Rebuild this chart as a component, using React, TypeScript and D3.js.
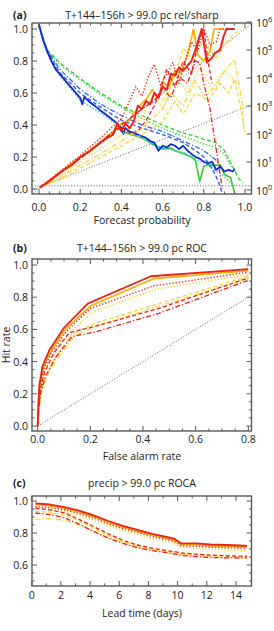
import React from "react";
import * as d3 from "d3";

type Pt = [number, number];

// ---------- panel (a): reliability (left axis) ----------
const relRedSolid: Pt[] = [
  [0.005, 0.01], [0.04, 0.04], [0.08, 0.08], [0.12, 0.12], [0.16, 0.15], [0.2, 0.2],
  [0.24, 0.23], [0.28, 0.27], [0.32, 0.31], [0.36, 0.34], [0.38, 0.41], [0.4, 0.36],
  [0.42, 0.41], [0.44, 0.38], [0.46, 0.42], [0.48, 0.52], [0.5, 0.5], [0.52, 0.55],
  [0.54, 0.53], [0.56, 0.6], [0.58, 0.57], [0.6, 0.64], [0.62, 0.62], [0.64, 0.72],
  [0.66, 0.71], [0.68, 0.76], [0.7, 0.74], [0.72, 0.77], [0.74, 0.8], [0.765, 0.89],
  [0.79, 1.0], [0.815, 0.79], [0.84, 0.82], [0.855, 0.85], [0.88, 0.87], [0.895, 0.95],
  [0.91, 1.0], [0.93, 1.0], [0.95, 1.0],
];
const relOrangeSolid: Pt[] = [
  [0.005, 0.01], [0.1, 0.1], [0.2, 0.2], [0.3, 0.29], [0.36, 0.36], [0.4, 0.41],
  [0.44, 0.43], [0.48, 0.51], [0.52, 0.56], [0.55, 0.62], [0.58, 0.57], [0.6, 0.67],
  [0.63, 0.64], [0.66, 0.74], [0.69, 0.72], [0.72, 0.84], [0.74, 0.94], [0.75, 1.0],
  [0.77, 0.84], [0.8, 0.8], [0.83, 0.86], [0.85, 1.0], [0.9, 1.0],
];
const relRedDotted: Pt[] = [
  [0.005, 0.01], [0.2, 0.21], [0.3, 0.32], [0.4, 0.44], [0.44, 0.55], [0.47, 0.64],
  [0.5, 0.58], [0.53, 0.7], [0.56, 0.78], [0.59, 0.65], [0.62, 0.72], [0.65, 0.79],
  [0.68, 0.66], [0.71, 0.8], [0.74, 0.92], [0.77, 0.86], [0.8, 1.0], [0.83, 0.9],
  [0.86, 0.92], [0.88, 1.0], [0.92, 1.0],
];
const relRedDashed: Pt[] = [
  [0.005, 0.01], [0.2, 0.19], [0.3, 0.29], [0.4, 0.39], [0.44, 0.35], [0.48, 0.36],
  [0.52, 0.43], [0.56, 0.52], [0.59, 0.62], [0.62, 0.75], [0.66, 0.64], [0.7, 0.8],
  [0.74, 0.72], [0.78, 0.95], [0.8, 1.0], [0.82, 0.8], [0.84, 0.66],
];
const relRedDashDot: Pt[] = [
  [0.005, 0.01], [0.2, 0.19], [0.4, 0.4], [0.5, 0.5], [0.56, 0.55], [0.6, 0.63],
  [0.64, 0.57], [0.68, 0.7], [0.72, 0.66], [0.76, 0.8], [0.78, 0.79], [0.8, 0.66],
  [0.83, 0.5], [0.86, 0.25], [0.89, 0.0],
];
const relYellowDotted: Pt[] = [
  [0.005, 0.01], [0.1, 0.08], [0.2, 0.17], [0.3, 0.25], [0.4, 0.34], [0.5, 0.45],
  [0.56, 0.6], [0.6, 0.5], [0.66, 0.72], [0.72, 0.6], [0.78, 0.76], [0.84, 0.62],
  [0.9, 0.74], [0.96, 0.66],
];
const relYellowDashed: Pt[] = [
  [0.005, 0.01], [0.1, 0.06], [0.2, 0.13], [0.3, 0.2], [0.4, 0.27], [0.5, 0.34],
  [0.6, 0.42], [0.66, 0.55], [0.7, 0.47], [0.76, 0.6], [0.82, 0.55], [0.88, 0.66],
  [0.92, 0.6], [0.95, 0.69], [0.98, 0.5], [1.0, 0.35],
];
const relYellowDashDot: Pt[] = [
  [0.005, 0.01], [0.1, 0.07], [0.2, 0.15], [0.3, 0.22], [0.4, 0.3], [0.5, 0.38],
  [0.6, 0.5], [0.64, 0.6], [0.7, 0.52], [0.76, 0.68], [0.8, 0.58], [0.86, 0.64],
  [0.9, 0.74], [0.95, 0.81], [0.985, 0.55], [0.995, 0.37],
];
const relYellowUpper: Pt[] = [
  [0.6, 0.55], [0.65, 0.66], [0.7, 0.88], [0.74, 0.82], [0.8, 0.92], [0.86, 0.82],
  [0.9, 0.9], [0.94, 0.96], [0.98, 1.0],
];

// ---------- panel (a): sharpness, log10(count) on right axis ----------
const shBlueSolid: Pt[] = [
  [0, 5.92], [0.02, 5.35], [0.04, 4.95], [0.06, 4.6], [0.08, 4.32], [0.1, 4.15],
  [0.12, 3.98], [0.14, 3.8], [0.16, 3.63], [0.18, 3.46], [0.2, 3.29], [0.21, 3.06],
  [0.22, 3.32], [0.24, 3.18], [0.26, 3.06], [0.28, 2.95], [0.3, 2.83], [0.32, 2.72],
  [0.34, 2.61], [0.36, 2.49], [0.38, 2.38], [0.4, 2.21], [0.41, 2.0], [0.42, 2.21],
  [0.44, 2.09], [0.46, 2.03], [0.48, 1.98], [0.5, 1.92], [0.52, 1.86], [0.54, 1.75],
  [0.56, 1.69], [0.58, 1.4], [0.6, 1.58], [0.62, 1.52], [0.64, 1.64], [0.66, 1.58],
  [0.68, 1.46], [0.7, 1.58], [0.72, 1.41], [0.74, 1.29], [0.76, 1.18], [0.78, 1.12],
  [0.8, 1.01], [0.82, 0.95], [0.84, 1.01], [0.86, 0.72], [0.88, 0.84], [0.9, 0.66],
  [0.92, 0.72], [0.94, 0.66], [0.95, 0.75],
];
const shBlueDashed: Pt[] = [
  [0, 5.86], [0.04, 4.95], [0.1, 4.2], [0.2, 3.46], [0.3, 2.95], [0.4, 2.49],
  [0.5, 2.21], [0.6, 1.98], [0.7, 1.69], [0.76, 1.41], [0.8, 1.18], [0.84, 0.78],
  [0.87, 0.32], [0.89, -0.13],
];
const shBlueDashDot: Pt[] = [
  [0, 5.86], [0.04, 5.0], [0.1, 4.32], [0.2, 3.6], [0.3, 3.06], [0.4, 2.66],
  [0.5, 2.32], [0.6, 2.09], [0.7, 1.75], [0.8, 1.41], [0.86, 1.06], [0.9, 0.6],
];
const shCyanDotted: Pt[] = [
  [0, 5.8], [0.04, 4.9], [0.1, 4.1], [0.2, 3.2], [0.3, 2.75], [0.4, 2.2],
  [0.5, 1.85], [0.6, 1.5], [0.7, 1.35], [0.8, 0.95], [0.88, 0.6], [0.94, 0.2],
];
const shGreenSolid: Pt[] = [
  [0.38, 2.25], [0.4, 2.1], [0.44, 2.0], [0.5, 1.86], [0.56, 1.6], [0.6, 1.46],
  [0.64, 1.5], [0.66, 1.4], [0.7, 1.3], [0.74, 1.18], [0.76, 1.05], [0.78, 0.3],
  [0.8, 0.84], [0.82, 0.9], [0.86, 0.88], [0.88, 0.9], [0.9, 0.55], [0.93, 0.45],
  [0.95, -0.13],
];
const shGreenDashed: Pt[] = [
  [0.04, 5.0], [0.1, 4.55], [0.2, 3.98], [0.3, 3.46], [0.4, 3.0], [0.5, 2.66],
  [0.6, 2.32], [0.7, 2.03], [0.76, 1.92], [0.8, 1.81], [0.86, 1.69], [0.9, 1.41],
  [0.94, 0.84], [0.97, 0.4], [0.99, 0.26],
];
const shGreenDotted: Pt[] = [
  [0.04, 4.95], [0.1, 4.49], [0.2, 3.92], [0.3, 3.4], [0.4, 2.95], [0.5, 2.55],
  [0.6, 2.2], [0.7, 1.92], [0.8, 1.64], [0.86, 1.52], [0.9, 1.29], [0.93, 0.9],
  [0.96, 0.6],
];

// ---------- panel (b): ROC (false alarm rate, hit rate) ----------
const rocRedSolid: Pt[] = [
  [0, 0], [0.002, 0.12], [0.006, 0.25], [0.018, 0.37], [0.044, 0.47], [0.1, 0.61],
  [0.19, 0.76], [0.43, 0.93], [0.8, 0.975],
];
const rocOrangeSolid: Pt[] = [
  [0, 0], [0.003, 0.12], [0.008, 0.25], [0.02, 0.36], [0.047, 0.46], [0.105, 0.6],
  [0.2, 0.745], [0.44, 0.915], [0.8, 0.965],
];
const rocRedDotted: Pt[] = [
  [0, 0], [0.003, 0.11], [0.009, 0.24], [0.022, 0.35], [0.05, 0.45], [0.11, 0.59],
  [0.2, 0.73], [0.44, 0.87], [0.8, 0.955],
];
const rocYellowDotted: Pt[] = [
  [0, 0], [0.004, 0.1], [0.01, 0.22], [0.024, 0.33], [0.055, 0.43], [0.115, 0.57],
  [0.21, 0.71], [0.45, 0.85], [0.8, 0.94],
];
const rocYellowDashed: Pt[] = [
  [0, 0], [0.004, 0.1], [0.012, 0.2], [0.03, 0.31], [0.065, 0.42], [0.13, 0.57],
  [0.22, 0.64], [0.47, 0.765], [0.8, 0.93],
];
const rocYellowDashDot: Pt[] = [
  [0, 0], [0.005, 0.1], [0.013, 0.2], [0.032, 0.3], [0.07, 0.41], [0.14, 0.56],
  [0.23, 0.625], [0.47, 0.75], [0.8, 0.915],
];
const rocRedDashed: Pt[] = [
  [0, 0], [0.003, 0.12], [0.01, 0.22], [0.025, 0.33], [0.06, 0.45], [0.12, 0.58],
  [0.22, 0.62], [0.46, 0.73], [0.8, 0.92],
];
const rocRedDashDot: Pt[] = [
  [0, 0], [0.004, 0.11], [0.012, 0.21], [0.03, 0.31], [0.07, 0.43], [0.13, 0.555],
  [0.22, 0.585], [0.46, 0.7], [0.8, 0.905],
];

// ---------- panel (c): ROC area vs lead time ----------
const leadDays = [0.25, 1.25, 2.25, 3.25, 4.25, 5.25, 6.25, 7.25, 8.25, 9.25, 9.75, 10.25, 11.25, 12.25, 13.25, 14.25, 14.75];
const rocaRedSolid = [0.985, 0.978, 0.962, 0.94, 0.91, 0.875, 0.845, 0.82, 0.795, 0.775, 0.765, 0.735, 0.735, 0.728, 0.725, 0.722, 0.72];
const rocaOrangeSolid = [0.978, 0.97, 0.955, 0.932, 0.902, 0.867, 0.837, 0.812, 0.787, 0.767, 0.757, 0.728, 0.728, 0.72, 0.718, 0.715, 0.713];
const rocaRedDotted = [0.965, 0.958, 0.945, 0.922, 0.893, 0.858, 0.828, 0.803, 0.778, 0.758, 0.748, 0.72, 0.718, 0.712, 0.708, 0.706, 0.705];
const rocaYellowDotted = [0.95, 0.945, 0.933, 0.91, 0.88, 0.845, 0.815, 0.79, 0.765, 0.745, 0.737, 0.71, 0.705, 0.698, 0.693, 0.69, 0.69];
const rocaRedDashed = [0.955, 0.945, 0.925, 0.885, 0.84, 0.795, 0.755, 0.725, 0.705, 0.69, 0.684, 0.675, 0.668, 0.662, 0.658, 0.655, 0.655];
const rocaYellowDashed = [0.935, 0.93, 0.912, 0.875, 0.83, 0.785, 0.748, 0.72, 0.7, 0.686, 0.68, 0.672, 0.665, 0.66, 0.657, 0.654, 0.655];
const rocaRedDashDot = [0.925, 0.915, 0.895, 0.855, 0.81, 0.768, 0.735, 0.708, 0.69, 0.677, 0.67, 0.66, 0.652, 0.647, 0.645, 0.645, 0.645];
const rocaYellowDashDot = [0.885, 0.89, 0.88, 0.85, 0.81, 0.77, 0.738, 0.712, 0.693, 0.68, 0.675, 0.665, 0.658, 0.652, 0.648, 0.645, 0.643];

// reference values
const climFreq = 0.02;
const probTicks = [0, 0.2, 0.4, 0.6, 0.8, 1.0];
const rateTicks = [0, 0.2, 0.4, 0.6, 0.8, 1.0];
const farTicks = [0, 0.2, 0.4, 0.6, 0.8];
const logDecades = [0, 1, 2, 3, 4, 5, 6];
const dayTicks = [0, 2, 4, 6, 8, 10, 12, 14];
const rocaTicks = [0.6, 0.8, 1.0];

// styles
const RED = "#e8241c";
const ORANGE = "#ffae00";
const YELLOW = "#ffd43a";
const BLUE = "#0b2bd6";
const MIDBLUE = "#2f63f2";
const CYAN = "#3cb8e8";
const GREEN = "#33cc33";
const LGREEN = "#47dd47";
const DOT = "1.3,1.9";
const DASH = "4,2.4";
const DASHDOT = "5,2,1.3,2";
const FRAME = "#5a5a5a";
const FONT = "'Open Sans', 'Noto Sans', sans-serif";

const fmt1 = d3.format(".1f");

type Box = { x0: number; x1: number; y0: number; y1: number };

function Clip({ b, id }: { b: Box; id: string }) {
  return (
    <defs>
      <clipPath id={id}>
        <rect x={b.x0} y={b.y0} width={b.x1 - b.x0} height={b.y1 - b.y0} />
      </clipPath>
    </defs>
  );
}

function Ticks({ b, xs, major, minor, side }: { b: Box; xs: (v: number) => number; major: number[]; minor: number[]; side: "x" | "y" | "left" | "right" }) {
  const out: JSX.Element[] = [];
  const push = (v: number, len: number, k: string) => {
    const p = xs(v);
    if (side === "x") {
      out.push(<line key={"b" + k} x1={p} x2={p} y1={b.y1} y2={b.y1 - len} />);
      out.push(<line key={"t" + k} x1={p} x2={p} y1={b.y0} y2={b.y0 + len} />);
    } else if (side === "y") {
      out.push(<line key={"l" + k} y1={p} y2={p} x1={b.x0} x2={b.x0 + len} />);
      out.push(<line key={"r" + k} y1={p} y2={p} x1={b.x1} x2={b.x1 - len} />);
    } else if (side === "left") {
      out.push(<line key={"l" + k} y1={p} y2={p} x1={b.x0} x2={b.x0 + len} />);
    } else {
      out.push(<line key={"r" + k} y1={p} y2={p} x1={b.x1} x2={b.x1 - len} />);
    }
  };
  major.forEach((v, i) => push(v, 5, "M" + i));
  minor.forEach((v, i) => push(v, 2.6, "m" + i));
  return <g stroke={FRAME} strokeWidth={1}>{out}</g>;
}

const minorsOf = (lo: number, hi: number, step: number, skip: number[]) =>
  d3.range(Math.round(lo / step), Math.round(hi / step) + 1)
    .map((k) => +(k * step).toFixed(4))
    .filter((v) => !skip.includes(v));

function Series({ pts, x, y, color, dash, w, clip }: { pts: Pt[]; x: (v: number) => number; y: (v: number) => number; color: string; dash?: string; w?: number; clip: string }) {
  const line = d3.line<Pt>().x((d) => x(d[0])).y((d) => y(d[1]));
  return (
    <path d={line(pts) || ""} fill="none" stroke={color} strokeWidth={w ?? 1.3} strokeDasharray={dash} strokeLinejoin="round" clipPath={`url(#${clip})`} />
  );
}

export default function App() {
  // panel a
  const bA: Box = { x0: 32, x1: 251.5, y0: 23, y1: 194 };
  const xA = d3.scaleLinear().domain([0, 1]).range([39, 245]);
  const yA = d3.scaleLinear().domain([0, 1]).range([189, 29]);
  const yLog = d3.scaleLog().domain([1, 1e6]).range([190, 22]);
  const yS = (v: number) => yLog(Math.pow(10, v));

  // panel b
  const bB: Box = { x0: 32, x1: 251.5, y0: 259, y1: 431 };
  const xB = d3.scaleLinear().domain([0, 0.8]).range([37.7, 248.3]);
  const yB = d3.scaleLinear().domain([0, 1]).range([426, 265]);

  // panel c
  const bC: Box = { x0: 32, x1: 251.5, y0: 496, y1: 586 };
  const xC = d3.scaleLinear().domain([0, 14]).range([31.7, 236]);
  const yC = d3.scaleLinear().domain([0.6, 1.0]).range([565, 501]);

  const rocaPts = (vals: number[]): Pt[] => leadDays.map((d, i) => [d, vals[i]]);

  const box = (b: Box) => (
    <rect x={b.x0} y={b.y0} width={b.x1 - b.x0} height={b.y1 - b.y0} fill="none" stroke={FRAME} strokeWidth={1.4} />
  );

  const txt = { fontFamily: FONT, fontSize: 10.5, fill: "#222" } as const;

  return (
    <svg width={274} height={631} style={{ position: "absolute", left: 0, top: 0, background: "#fff" }}>
      <Clip b={bA} id="clipA" />
      <Clip b={bB} id="clipB" />
      <Clip b={bC} id="clipC" />

      {/* ---------------- (a) ---------------- */}
      <text x={13} y={19} {...txt} fontWeight="bold">(a)</text>
      <text x={142} y={19} {...txt} textAnchor="middle">T+144–156h &gt; 99.0 pc rel/sharp</text>

      <g clipPath="url(#clipA)">
        <line x1={xA(-0.05)} y1={yA(-0.05)} x2={xA(1.05)} y2={yA(1.05)} stroke="#555" strokeWidth={0.9} strokeDasharray="1,1.8" />
        <line x1={xA(-0.05)} y1={yA((climFreq - 0.05) / 2)} x2={xA(1.05)} y2={yA((climFreq + 1.05) / 2)} stroke="#555" strokeWidth={0.9} strokeDasharray="1,1.8" />
        <line x1={bA.x0} y1={yA(climFreq)} x2={bA.x1} y2={yA(climFreq)} stroke="#555" strokeWidth={0.9} strokeDasharray="1,1.8" />
      </g>

      <Series pts={shGreenDotted} x={xA} y={yS} color={LGREEN} dash={DOT} w={1.5} clip="clipA" />
      <Series pts={shGreenDashed} x={xA} y={yS} color={GREEN} dash={DASH} w={1.3} clip="clipA" />
      <Series pts={shGreenSolid} x={xA} y={yS} color={GREEN} w={1.6} clip="clipA" />
      <Series pts={shCyanDotted} x={xA} y={yS} color={CYAN} dash={DOT} w={1.4} clip="clipA" />
      <Series pts={shBlueDashDot} x={xA} y={yS} color={MIDBLUE} dash={DASHDOT} w={1.3} clip="clipA" />
      <Series pts={shBlueDashed} x={xA} y={yS} color={MIDBLUE} dash={DASH} w={1.4} clip="clipA" />
      <Series pts={shBlueSolid} x={xA} y={yS} color={BLUE} w={1.8} clip="clipA" />

      <Series pts={relYellowUpper} x={xA} y={yA} color={YELLOW} dash={DASH} w={1.2} clip="clipA" />
      <Series pts={relYellowDashDot} x={xA} y={yA} color={YELLOW} dash={DASHDOT} w={1.3} clip="clipA" />
      <Series pts={relYellowDashed} x={xA} y={yA} color={YELLOW} dash={DASH} w={1.3} clip="clipA" />
      <Series pts={relYellowDotted} x={xA} y={yA} color={YELLOW} dash={DOT} w={1.4} clip="clipA" />
      <Series pts={relOrangeSolid} x={xA} y={yA} color={ORANGE} w={1.7} clip="clipA" />
      <Series pts={relRedDashDot} x={xA} y={yA} color={RED} dash={DASHDOT} w={1.3} clip="clipA" />
      <Series pts={relRedDashed} x={xA} y={yA} color={RED} dash={DASH} w={1.3} clip="clipA" />
      <Series pts={relRedDotted} x={xA} y={yA} color={RED} dash={DOT} w={1.4} clip="clipA" />
      <Series pts={relRedSolid} x={xA} y={yA} color={RED} w={2} clip="clipA" />

      {box(bA)}
      <Ticks b={bA} xs={xA} major={probTicks} minor={minorsOf(0, 1, 0.05, probTicks)} side="x" />
      <Ticks b={bA} xs={yA} major={probTicks} minor={minorsOf(0, 1, 0.05, probTicks)} side="left" />
      <Ticks b={bA} xs={yS} major={logDecades} minor={[]} side="right" />
      {probTicks.map((v) => (
        <text key={"ay" + v} x={28} y={yA(v) + 4} {...txt} textAnchor="end">{fmt1(v)}</text>
      ))}
      {probTicks.map((v) => (
        <text key={"ax" + v} x={xA(v)} y={211} {...txt} textAnchor="middle">{fmt1(v)}</text>
      ))}
      {logDecades.map((e) => (
        <text key={"ar" + e} x={256} y={yS(e) + 5} {...txt}>
          10<tspan dy={-5} fontSize={7.5}>{e}</tspan>
        </text>
      ))}
      <text x={142} y={224} {...txt} textAnchor="middle">Forecast probability</text>

      {/* ---------------- (b) ---------------- */}
      <text x={13} y={252} {...txt} fontWeight="bold">(b)</text>
      <text x={142} y={252} {...txt} textAnchor="middle">T+144–156h &gt; 99.0 pc ROC</text>

      <line x1={xB(0)} y1={yB(0)} x2={xB(0.8)} y2={yB(0.8)} stroke="#555" strokeWidth={0.9} strokeDasharray="1,1.8" />
      <Series pts={rocYellowDashDot} x={xB} y={yB} color={YELLOW} dash={DASHDOT} w={1.3} clip="clipB" />
      <Series pts={rocYellowDashed} x={xB} y={yB} color={YELLOW} dash={DASH} w={1.3} clip="clipB" />
      <Series pts={rocYellowDotted} x={xB} y={yB} color={YELLOW} dash={DOT} w={1.5} clip="clipB" />
      <Series pts={rocOrangeSolid} x={xB} y={yB} color={ORANGE} w={1.7} clip="clipB" />
      <Series pts={rocRedDashDot} x={xB} y={yB} color={RED} dash={DASHDOT} w={1.3} clip="clipB" />
      <Series pts={rocRedDashed} x={xB} y={yB} color={RED} dash={DASH} w={1.3} clip="clipB" />
      <Series pts={rocRedDotted} x={xB} y={yB} color={RED} dash={DOT} w={1.4} clip="clipB" />
      <Series pts={rocRedSolid} x={xB} y={yB} color={RED} w={1.8} clip="clipB" />

      {box(bB)}
      <Ticks b={bB} xs={xB} major={farTicks} minor={minorsOf(0, 0.8, 0.05, farTicks)} side="x" />
      <Ticks b={bB} xs={yB} major={rateTicks} minor={minorsOf(0, 1, 0.05, rateTicks)} side="y" />
      {rateTicks.map((v) => (
        <text key={"by" + v} x={28} y={yB(v) + 4} {...txt} textAnchor="end">{fmt1(v)}</text>
      ))}
      {farTicks.map((v) => (
        <text key={"bx" + v} x={xB(v)} y={443} {...txt} textAnchor="middle">{fmt1(v)}</text>
      ))}
      <text x={142} y={460} {...txt} textAnchor="middle">False alarm rate</text>
      <text transform={`translate(9.5,345) rotate(-90)`} {...txt} textAnchor="middle">Hit rate</text>

      {/* ---------------- (c) ---------------- */}
      <text x={13} y={487} {...txt} fontWeight="bold">(c)</text>
      <text x={142} y={487} {...txt} textAnchor="middle">precip &gt; 99.0 pc ROCA</text>

      <Series pts={rocaPts(rocaYellowDashDot)} x={xC} y={yC} color={YELLOW} dash={DASHDOT} w={1.3} clip="clipC" />
      <Series pts={rocaPts(rocaYellowDashed)} x={xC} y={yC} color={YELLOW} dash={DASH} w={1.3} clip="clipC" />
      <Series pts={rocaPts(rocaYellowDotted)} x={xC} y={yC} color={YELLOW} dash={DOT} w={1.5} clip="clipC" />
      <Series pts={rocaPts(rocaOrangeSolid)} x={xC} y={yC} color={ORANGE} w={1.7} clip="clipC" />
      <Series pts={rocaPts(rocaRedDashDot)} x={xC} y={yC} color={RED} dash={DASHDOT} w={1.3} clip="clipC" />
      <Series pts={rocaPts(rocaRedDashed)} x={xC} y={yC} color={RED} dash={DASH} w={1.3} clip="clipC" />
      <Series pts={rocaPts(rocaRedDotted)} x={xC} y={yC} color={RED} dash={DOT} w={1.4} clip="clipC" />
      <Series pts={rocaPts(rocaRedSolid)} x={xC} y={yC} color={RED} w={1.8} clip="clipC" />

      {box(bC)}
      <Ticks b={bC} xs={xC} major={dayTicks} minor={d3.range(1, 15, 2)} side="x" />
      <Ticks b={bC} xs={yC} major={rocaTicks} minor={[0.5, 0.55, 0.65, 0.7, 0.75, 0.85, 0.9, 0.95]} side="y" />
      {rocaTicks.map((v) => (
        <text key={"cy" + v} x={28} y={yC(v) + 4} {...txt} textAnchor="end">{fmt1(v)}</text>
      ))}
      {dayTicks.map((v) => (
        <text key={"cx" + v} x={xC(v)} y={599} {...txt} textAnchor="middle">{v}</text>
      ))}
      <text x={142} y={617} {...txt} textAnchor="middle">Lead time (days)</text>
    </svg>
  );
}
